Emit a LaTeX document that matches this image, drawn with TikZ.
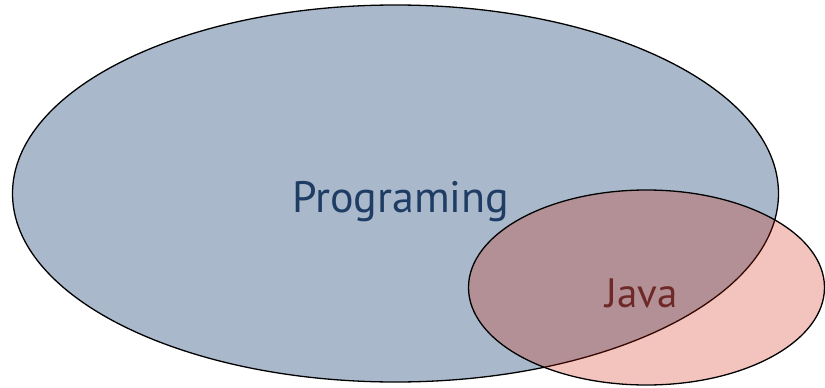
\documentclass[tikz,border=0pt]{standalone}
\usepackage{fontspec}
\setmainfont{PT Sans}
\usetikzlibrary{shapes.geometric}
\definecolor{bigfill}{RGB}{169,185,203}
\definecolor{smallfill}{RGB}{205,28,0}
\definecolor{progtext}{RGB}{31,61,100}
\definecolor{javatext}{RGB}{110,40,40}
\tikzset{
  setshape/.style={draw=black, line width=1.3pt, ellipse, inner sep=0pt},
  setlabel/.style={inner sep=0pt, anchor=base west},
}
\begin{document}
\begin{tikzpicture}[x=1pt,y=-1pt]
\useasboundingbox (0,0) rectangle (825,388);
\node[setshape, fill=bigfill, minimum width=766pt, minimum height=377pt] (big) at (395.5,193.5) {};
\node[setshape, fill=smallfill, fill opacity=0.26, minimum width=356pt, minimum height=195pt] (small) at (646.5,287.5) {};
\node[setlabel, text=progtext, font=\fontsize{44}{44}\selectfont] (prog) at (292,212) {Programing};
\node[setlabel, text=javatext, font=\fontsize{41}{41}\selectfont] (java) at (605,307) {Java};
\end{tikzpicture}
\end{document}
